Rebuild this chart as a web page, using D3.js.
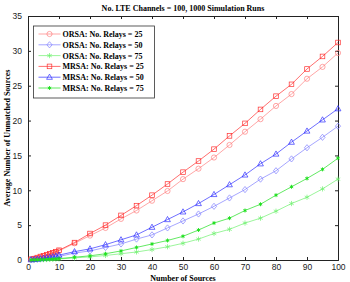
<!DOCTYPE html>
<html>
<head>
<meta charset="utf-8">
<script src="https://cdn.jsdelivr.net/npm/d3@7"></script>
<style>
body { margin: 0; background: #fff; }
svg text { font-family: "Liberation Serif", serif; }
.tick text { font-family: "Liberation Sans", sans-serif; font-size: 8.5px; fill: #222; }
</style>
</head>
<body>
<div id="chart"></div>
<script>
const width = 350
const height = 282
const margin = { top: 16, right: 12, bottom: 22, left: 28 }

// data
const sources = [1, 2, 3, 4, 5, 6, 7, 8, 9, 10, 15, 20, 25, 30, 35, 40, 45, 50, 55, 60, 65, 70, 75, 80, 85, 90, 95, 100]
const orsa25 = [0.1, 0.2, 0.3, 0.45, 0.55, 0.7, 0.85, 1.0, 1.15, 1.3, 2.4, 3.5, 4.6, 5.9, 7.1, 8.5, 9.9, 11.6, 13.1, 14.7, 16.5, 18.4, 20.2, 22.1, 23.8, 26.0, 27.7, 29.7]
const orsa50 = [0.03, 0.06, 0.1, 0.15, 0.2, 0.25, 0.3, 0.35, 0.42, 0.5, 1.0, 1.3, 1.8, 2.3, 3.0, 3.6, 4.6, 5.6, 6.6, 7.7, 8.9, 10.1, 11.6, 12.8, 14.5, 16.1, 17.6, 19.2]
const orsa75 = [0.01, 0.02, 0.03, 0.04, 0.05, 0.06, 0.08, 0.1, 0.12, 0.15, 0.3, 0.45, 0.65, 0.9, 1.15, 1.5, 1.9, 2.4, 3.0, 3.8, 4.4, 5.3, 6.0, 7.0, 8.1, 9.0, 10.2, 11.6]
const mrsa25 = [0.1, 0.2, 0.35, 0.5, 0.6, 0.75, 0.9, 1.05, 1.2, 1.4, 2.5, 3.8, 5.0, 6.4, 7.8, 9.3, 10.9, 12.6, 14.2, 15.9, 17.8, 19.6, 21.6, 23.5, 25.2, 27.4, 29.2, 31.2]
const mrsa50 = [0.04, 0.08, 0.13, 0.2, 0.26, 0.33, 0.4, 0.48, 0.58, 0.7, 1.2, 1.6, 2.2, 2.9, 3.6, 4.7, 5.8, 6.9, 8.1, 9.4, 10.8, 12.2, 13.8, 15.2, 16.9, 18.5, 20.1, 21.7]
const mrsa75 = [0.01, 0.02, 0.03, 0.05, 0.06, 0.08, 0.1, 0.12, 0.15, 0.2, 0.4, 0.6, 0.9, 1.3, 1.8, 2.3, 2.8, 3.4, 4.3, 5.3, 6.0, 7.1, 8.0, 9.3, 10.5, 11.7, 13.0, 14.6]

const seriesNames = ["ORSA: No. Relays = 25", "ORSA: No. Relays = 50", "ORSA: No. Relays = 75",
                     "MRSA: No. Relays = 25", "MRSA: No. Relays = 50", "MRSA: No. Relays = 75"]
const seriesValues = [orsa25, orsa50, orsa75, mrsa25, mrsa50, mrsa75]
const colors = ["#ff8080", "#8080ff", "#70f070", "#ff3030", "#3030ff", "#20e020"]
const markers = ["circle", "diamond", "asterisk", "square", "triangle", "dot"]

const xTicks = [0, 10, 20, 30, 40, 50, 60, 70, 80, 90, 100]
const yTicks = [0, 5, 10, 15, 20, 25, 30, 35]

const svg = d3.select("div#chart").append("svg").attr("width", width).attr("height", height)

const innerW = width - margin.left - margin.right
const innerH = height - margin.top - margin.bottom

const x = d3.scaleLinear().domain([0, 100]).range([0, innerW])
const y = d3.scaleLinear().domain([0, 35]).range([innerH, 0])

const g = svg.append("g").attr("transform", `translate(${margin.left}, ${margin.top})`)

// axes, ticks pointing inwards like matlab
const xAxis = d3.axisBottom(x).tickValues(xTicks).tickSize(-3).tickPadding(4)
const yAxis = d3.axisLeft(y).tickValues(yTicks).tickSize(-3).tickPadding(6)

const xAxisGroup = g.append("g").attr("transform", `translate(0, ${innerH})`).call(xAxis)
const yAxisGroup = g.append("g").call(yAxis)
g.append("g").call(d3.axisTop(x).tickValues(xTicks).tickSize(-3).tickFormat(""))
g.append("g").attr("transform", `translate(${innerW}, 0)`).call(d3.axisRight(y).tickValues(yTicks).tickSize(-3).tickFormat(""))
g.selectAll(".domain").attr("stroke", "#222")
g.selectAll(".tick line").attr("stroke", "#222")

const line = d3.line().x((d, i) => x(sources[i])).y(d => y(d))

function drawMarker(sel, type, color) {
    const r = 2.6
    if (type === "circle") {
        sel.append("circle").attr("r", r).attr("fill", "none").attr("stroke", color).attr("stroke-width", 0.7)
    } else if (type === "square") {
        sel.append("rect").attr("x", -r + 0.3).attr("y", -r + 0.3).attr("width", 2 * r - 0.6).attr("height", 2 * r - 0.6)
            .attr("fill", "none").attr("stroke", color).attr("stroke-width", 0.7)
    } else if (type === "diamond") {
        sel.append("path").attr("d", `M0,${-r - 0.5}L${r},0L0,${r + 0.5}L${-r},0Z`)
            .attr("fill", "none").attr("stroke", color).attr("stroke-width", 0.7)
    } else if (type === "triangle") {
        sel.append("path").attr("d", `M0,${-r - 0.5}L${r + 0.3},${r - 0.5}L${-r - 0.3},${r - 0.5}Z`)
            .attr("fill", "none").attr("stroke", color).attr("stroke-width", 0.7)
    } else if (type === "asterisk") {
        sel.append("path").attr("d", `M0,${-r}L0,${r}M${-r * 0.87},${-r / 2}L${r * 0.87},${r / 2}M${-r * 0.87},${r / 2}L${r * 0.87},${-r / 2}`)
            .attr("fill", "none").attr("stroke", color).attr("stroke-width", 0.7)
    } else {
        sel.append("path").attr("d", `M0,-2L0,2M-1.7,-1L1.7,1M-1.7,1L1.7,-1`)
            .attr("fill", "none").attr("stroke", color).attr("stroke-width", 0.9)
        sel.append("circle").attr("r", 1).attr("fill", color)
    }
}

seriesValues.forEach((vals, k) => {
    g.append("path").datum(vals).attr("d", line)
        .attr("fill", "none").attr("stroke", colors[k]).attr("stroke-width", 0.7)
    g.selectAll(null).data(vals).enter().append("g")
        .attr("transform", (d, i) => `translate(${x(sources[i])}, ${y(d)})`)
        .each(function() { drawMarker(d3.select(this), markers[k], colors[k]) })
})

// title and labels
svg.append("text").attr("x", margin.left + innerW / 2).attr("y", 11).attr("text-anchor", "middle")
    .attr("font-size", 8).attr("font-weight", "bold").text("No. LTE Channels = 100, 1000 Simulation Runs")
svg.append("text").attr("x", margin.left + innerW / 2).attr("y", 280.5).attr("text-anchor", "middle")
    .attr("font-size", 8).attr("font-weight", "bold").text("Number of Sources")
svg.append("text").attr("transform", `translate(10, ${margin.top + innerH / 2}) rotate(-90)`).attr("text-anchor", "middle")
    .attr("font-size", 8).attr("font-weight", "bold").text("Average Number of Unmatched Sources")

// legend
const legend = g.append("g").attr("transform", `translate(5.5, 10)`)
legend.append("rect").attr("width", 121).attr("height", 72).attr("fill", "#fff").attr("stroke", "#333").attr("stroke-width", 0.8)
seriesNames.forEach((name, k) => {
    const row = legend.append("g").attr("transform", `translate(0, ${8 + k * 10.8})`)
    row.append("line").attr("x1", 5).attr("x2", 27).attr("stroke", colors[k]).attr("stroke-width", 0.7)
    drawMarker(row.append("g").attr("transform", "translate(16, 0)"), markers[k], colors[k])
    row.append("text").attr("x", 29).attr("y", 3).attr("font-size", 8).attr("font-weight", "bold").text(name)
})
</script>
</body>
</html>
